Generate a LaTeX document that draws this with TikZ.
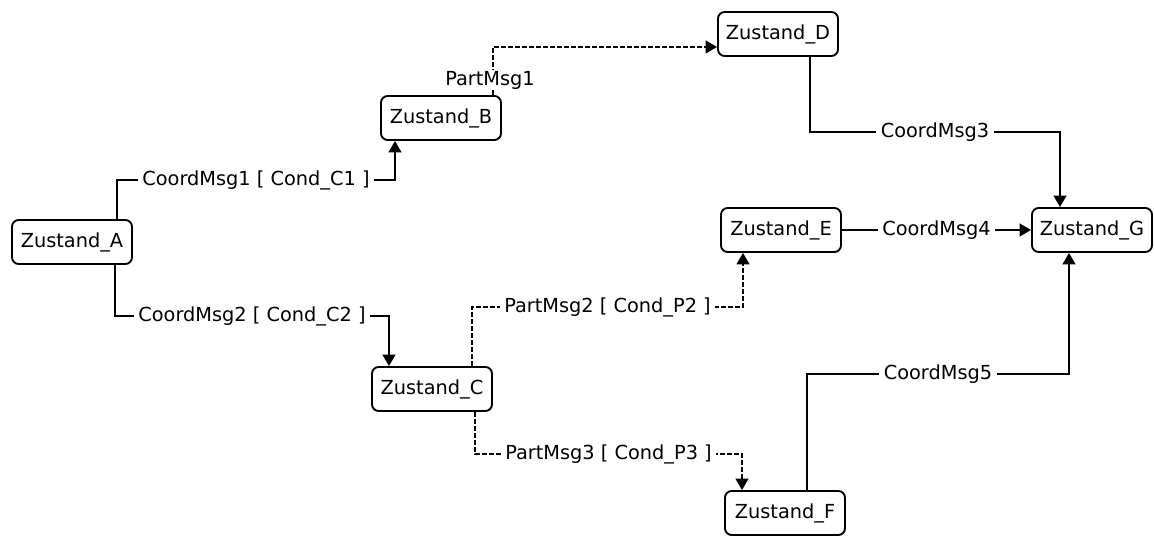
\documentclass[tikz,border=0pt]{standalone}
\usepackage{fontspec}
\setmainfont{DejaVu Sans}
\usetikzlibrary{arrows.meta}
\begin{document}
\begin{tikzpicture}[x=0.75pt,y=-0.75pt,
  txt/.style={font=\fontsize{14.5}{17}\selectfont},
  state/.style={txt, draw, rounded corners=5pt, line width=1.4pt,
    minimum width=90pt, minimum height=33pt, inner sep=0pt},
  conn/.style={line width=1.4pt, -{Triangle[length=8.5pt,width=9.5pt]}},
  partconn/.style={conn, dash pattern=on 3.75pt off 1.5pt},
  lbl/.style={txt, fill=white, inner xsep=3.5pt, inner ysep=1pt}]
\useasboundingbox (0,0) rectangle (1154,538);

% states
\node[state] (A) at (72,242)  {Zustand\_A};
\node[state] (B) at (441,118) {Zustand\_B};
\node[state] (C) at (432,389) {Zustand\_C};
\node[state] (D) at (778,34)  {Zustand\_D};
\node[state] (E) at (781,230) {Zustand\_E};
\node[state] (F) at (785,513) {Zustand\_F};
\node[state] (G) at (1092,230) {Zustand\_G};

% bend points
\coordinate (ab1) at (117,180); \coordinate (ab2) at (395,180);
\coordinate (ac1) at (115,316); \coordinate (ac2) at (389,316);
\coordinate (bd1) at (493,47);
\coordinate (dg1) at (810,132); \coordinate (dg2) at (1060,132);
\coordinate (fg1) at (807,374); \coordinate (fg2) at (1069,374);
\coordinate (ce1) at (472,307); \coordinate (ce2) at (743,307);
\coordinate (cf1) at (475,454); \coordinate (cf2) at (742,454);

% coordination messages
\draw[conn] (A.north -| ab1) -- (ab1) -- node[lbl] (m1) {CoordMsg1 [ Cond\_C1 ]} (ab2) -- (B.south -| ab2);
\draw[conn] (A.south -| ac1) -- (ac1) -- node[lbl] (m2) {CoordMsg2 [ Cond\_C2 ]} (ac2) -- (C.north -| ac2);
\draw[conn] (D.south -| dg1) -- (dg1) -- node[lbl] (m3) {CoordMsg3} (dg2) -- (G.north -| dg2);
\draw[conn] (E.east) -- node[lbl] (m4) {CoordMsg4} (G.west);
\draw[conn] (F.north -| fg1) -- (fg1) -- node[lbl] (m5) {CoordMsg5} (fg2) -- (G.south -| fg2);

% partial messages
\draw[partconn] (B.north -| bd1) -- (bd1) -- (D.west |- bd1);
\node[lbl] (p1) at (490,80) {PartMsg1};
\draw[partconn] (C.north -| ce1) -- (ce1) -- node[lbl] (p2) {PartMsg2 [ Cond\_P2 ]} (ce2) -- (E.south -| ce2);
\draw[partconn] (C.south -| cf1) -- (cf1) -- node[lbl] (p3) {PartMsg3 [ Cond\_P3 ]} (cf2) -- (F.north -| cf2);
\end{tikzpicture}
\end{document}
